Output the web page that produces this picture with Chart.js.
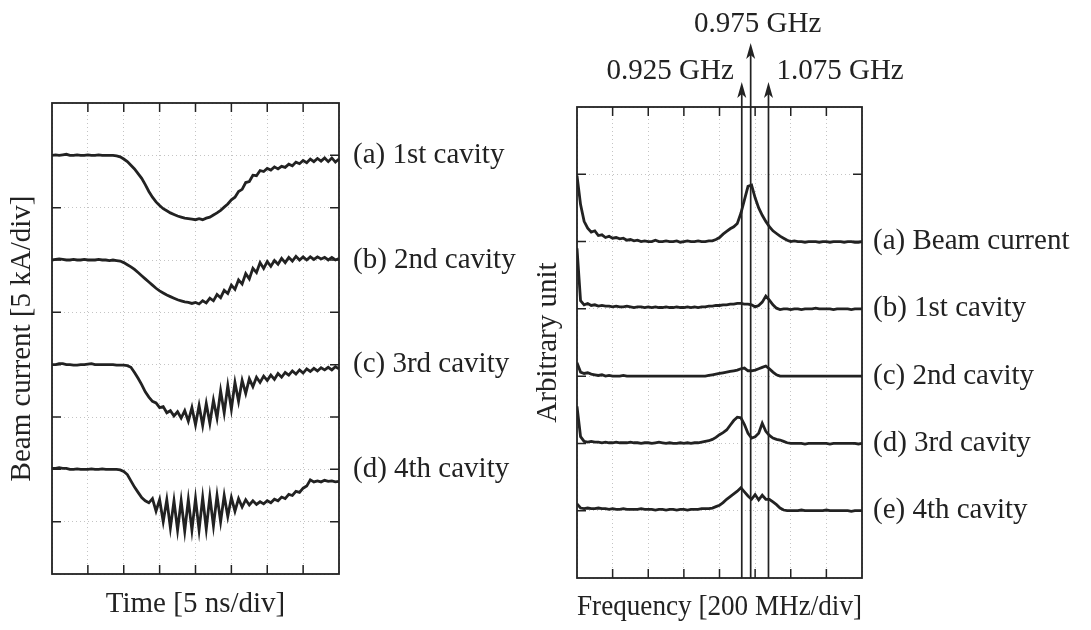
<!DOCTYPE html>
<html>
<head>
<meta charset="utf-8">
<script src="https://cdn.jsdelivr.net/npm/chart.js@4.4.1/dist/chart.umd.min.js"></script>
<style>
  html, body { margin: 0; padding: 0; background: #fff; }
  #wrap { position: relative; width: 1091px; height: 630px; overflow: hidden; }
  canvas { position: absolute; top: 0; }
  #timeChart { left: 0; }
  #freqChart { left: 520px; }
</style>
</head>
<body>
<div id="wrap">
  <canvas id="timeChart" width="520" height="630"></canvas>
  <canvas id="freqChart" width="571" height="630"></canvas>
</div>
<script>
// time axis: 0..40 ns, sampled every 0.5 ns (0.1 div)
var timeNs = Array.from({length: 81}, (_, i) => i * 0.5);

// beam current traces, in divisions (5 kA/div)
var cavity1 = [8.0, 8.01, 8.0, 8.01, 8.02, 8.0, 8.0, 8.01, 8.0, 8.0, 8.01, 8.0, 8.0, 8.01, 8.0, 8.0, 8.0, 8.0, 7.99,
    7.97, 7.93, 7.88, 7.81, 7.74, 7.65, 7.56, 7.44, 7.31, 7.2, 7.11, 7.04, 6.98, 6.94, 6.9, 6.87, 6.84, 6.82, 6.8, 6.79, 6.78, 6.77,
    6.79, 6.77, 6.8, 6.82, 6.86, 6.9, 6.95, 7.01, 7.07, 7.15, 7.2, 7.31, 7.35, 7.48, 7.5, 7.62, 7.61, 7.71, 7.69, 7.75,
    7.72, 7.78, 7.74, 7.79, 7.77, 7.83, 7.8, 7.87, 7.84, 7.9, 7.86, 7.93, 7.88, 7.94, 7.89, 7.95, 7.88, 7.95, 7.87, 7.93];
var cavity2 = [6.0, 6.01, 6.02, 6.01, 6.0, 6.0, 6.01, 6.0, 6.0, 6.01, 6.0, 6.0, 6.0, 6.01, 6.0, 6.0, 5.99, 6.0, 5.99, 5.98,
    5.95, 5.91, 5.87, 5.82, 5.76, 5.7, 5.64, 5.58, 5.52, 5.46, 5.41, 5.37, 5.33, 5.3, 5.27, 5.24, 5.22, 5.2, 5.19, 5.17, 5.19,
    5.16, 5.22, 5.18, 5.27, 5.22, 5.34, 5.28, 5.42, 5.36, 5.52, 5.44, 5.62, 5.54, 5.74, 5.64, 5.84, 5.76, 5.95, 5.84, 5.97,
    5.88, 5.99, 5.92, 6.03, 5.95, 6.05, 5.98, 6.07, 6.0, 6.06, 6.0, 6.06, 6.01, 6.06, 6.02, 6.05, 6.0, 6.05, 6.0, 6.03];
var cavity3 = [4.0, 4.0, 4.02, 4.02, 4.0, 4.0, 3.99, 3.99, 4.0, 4.0, 4.01, 4.02, 4.0, 4.0, 4.0, 4.0, 4.0, 4.0, 3.99, 3.99, 3.99, 3.98,
    3.95, 3.85, 3.74, 3.62, 3.48, 3.38, 3.3, 3.27, 3.18, 3.2, 3.08, 3.12, 3.02, 3.1, 2.98, 3.12, 2.92, 3.18, 2.85, 3.22,
    2.84, 3.26, 2.88, 3.32, 2.98, 3.5, 3.08, 3.6, 3.15, 3.66, 3.3, 3.7, 3.45, 3.73, 3.58, 3.76, 3.66, 3.78, 3.7, 3.8,
    3.72, 3.83, 3.76, 3.85, 3.8, 3.88, 3.82, 3.9, 3.84, 3.92, 3.87, 3.93, 3.88, 3.94, 3.9, 3.95, 3.9, 3.96, 3.92];
var cavity4 = [2.02, 2.02, 2.03, 2.02, 2.02, 2.0, 2.0, 2.01, 2.0, 2.0, 2.0, 2.01, 2.0, 2.0, 2.01, 2.0, 2.0, 2.0, 2.0, 1.99,
    1.96, 1.9, 1.78, 1.66, 1.56, 1.46, 1.4, 1.36, 1.44, 1.2, 1.42, 1.0, 1.42, 0.88, 1.4, 0.84, 1.4, 0.82, 1.42, 0.84,
    1.44, 0.84, 1.46, 0.86, 1.48, 0.92, 1.5, 1.0, 1.5, 1.1, 1.46, 1.2, 1.44, 1.28, 1.42, 1.32, 1.4, 1.33, 1.38, 1.34,
    1.4, 1.36, 1.43, 1.4, 1.47, 1.44, 1.52, 1.5, 1.58, 1.56, 1.64, 1.68, 1.8, 1.76, 1.78, 1.76, 1.79, 1.77, 1.78, 1.76, 1.77];
var timeLabels = ['(a) 1st cavity', '(b) 2nd cavity', '(c) 3rd cavity', '(d) 4th cavity'];

// frequency axis: 0..1.6 GHz, every 20 MHz
var freqGHz = Array.from({length: 81}, (_, i) => +(i * 0.02).toFixed(2));

var specBeam = [5.98, 5.55, 5.3, 5.2, 5.14, 5.16, 5.09, 5.1, 5.06, 5.08,
    5.05, 5.06, 5.04, 5.05, 5.02, 5.03, 5.01, 5.02, 5.0, 5.01,
    5.0, 5.0, 5.02, 5.0, 5.0, 5.01, 5.0, 5.0, 5.01, 4.99,
    5.0, 5.01, 5.0, 5.0, 5.01, 5.0, 5.0, 5.01, 5.01, 5.03,
    5.06, 5.11, 5.15, 5.19, 5.22, 5.27, 5.42, 5.62, 5.82, 5.84,
    5.65, 5.5, 5.39, 5.3, 5.22, 5.16, 5.12, 5.08, 5.05, 5.02,
    5.0, 5.01, 5.0, 5.0, 4.99, 5.0, 5.0, 5.0, 4.99, 5.0,
    5.0, 4.99, 5.0, 5.0, 5.0, 4.99, 5.0, 5.0, 4.99, 4.99, 5.0];
var specCav1 = [4.9, 4.12, 4.06, 4.08, 4.05, 4.06, 4.04, 4.05, 4.04, 4.04,
    4.03, 4.04, 4.03, 4.03, 4.04, 4.03, 4.02, 4.03, 4.03, 4.02,
    4.03, 4.02, 4.03, 4.02, 4.02, 4.03, 4.02, 4.02, 4.03, 4.02,
    4.02, 4.03, 4.02, 4.03, 4.02, 4.03, 4.03, 4.04, 4.04, 4.05,
    4.05, 4.06, 4.06, 4.07, 4.07, 4.08, 4.08, 4.07, 4.07, 4.06,
    4.03, 4.05, 4.1, 4.19, 4.13, 4.06, 4.01, 3.99, 4.0, 4.0,
    3.99, 4.0, 4.0, 3.99, 4.0, 4.0, 4.0, 4.01, 4.0, 4.0,
    4.0, 4.0, 3.99, 4.0, 4.0, 4.0, 4.0, 3.99, 4.0, 4.0, 4.0];
var specCav2 = [3.2, 3.06, 3.04, 3.05, 3.03, 3.02, 3.01, 3.02, 3.0, 3.01,
    3.0, 3.0, 3.0, 3.01, 3.0, 3.0, 3.0, 3.0, 3.0, 3.0,
    3.0, 3.0, 3.0, 3.0, 3.0, 3.0, 3.0, 3.0, 3.0, 3.0,
    3.0, 3.0, 3.0, 3.0, 3.0, 3.0, 3.0, 3.01, 3.02, 3.03,
    3.04, 3.05, 3.06, 3.07, 3.08, 3.09, 3.11, 3.12, 3.08, 3.08,
    3.09, 3.11, 3.13, 3.15, 3.11, 3.06, 3.02, 3.0, 3.0, 3.0,
    3.0, 3.0, 3.0, 3.0, 3.0, 3.0, 3.0, 3.0, 3.0, 3.0,
    3.0, 3.0, 3.0, 3.0, 3.0, 3.0, 3.0, 3.0, 3.0, 3.0, 3.0];
var specCav3 = [2.55, 2.1, 2.03, 2.02, 2.03, 2.02, 2.02, 2.01, 2.02, 2.01,
    2.01, 2.02, 2.01, 2.01, 2.01, 2.02, 2.01, 2.01, 2.0, 2.01,
    2.01, 2.0, 2.01, 2.02, 2.01, 2.0, 2.01, 2.0, 2.0, 2.01,
    2.0, 2.01, 2.0, 2.01, 2.01, 2.02, 2.03, 2.04, 2.06, 2.09,
    2.13, 2.16, 2.2, 2.27, 2.34, 2.39, 2.38, 2.28, 2.15, 2.08,
    2.1, 2.15, 2.3, 2.18, 2.12, 2.08, 2.06, 2.05, 2.03, 2.01,
    2.0, 2.0, 2.0, 2.0, 1.99, 2.0, 2.0, 2.0, 2.0, 2.0,
    2.0, 1.99, 2.0, 2.0, 2.0, 2.0, 2.0, 2.0, 2.0, 1.99, 2.0];
var specCav4 = [1.1, 1.04, 1.03, 1.04, 1.03, 1.03, 1.04, 1.03, 1.03, 1.02,
    1.03, 1.02, 1.02, 1.03, 1.02, 1.02, 1.02, 1.02, 1.03, 1.02,
    1.02, 1.02, 1.01, 1.02, 1.02, 1.01, 1.02, 1.02, 1.01, 1.02,
    1.02, 1.01, 1.02, 1.02, 1.02, 1.03, 1.03, 1.03, 1.04, 1.06,
    1.08, 1.12, 1.17, 1.21, 1.25, 1.29, 1.34, 1.28, 1.22, 1.17,
    1.24, 1.16, 1.23, 1.17, 1.17, 1.13, 1.09, 1.04, 1.01, 1.0,
    1.0, 1.0, 1.0, 1.01, 1.0, 1.0, 1.0, 1.0, 1.0, 1.0,
    1.01, 1.0, 1.0, 1.0, 1.0, 1.0, 1.0, 0.99, 1.0, 1.0, 1.0];
var freqLabels = ['(a) Beam current', '(b) 1st cavity', '(c) 2nd cavity', '(d) 3rd cavity', '(e) 4th cavity'];

// marked frequencies
var markerGHz = [0.925, 0.975, 1.075];
var markerText = ['0.925 GHz', '0.975 GHz', '1.075 GHz'];

var ink = '#222';
var serif = 'Liberation Serif, Times New Roman, serif';
var fontSize = 29;

function toPoints(xs, ys) {
    return ys.map((v, i) => ({x: xs[i], y: v}));
}
function traceSet(xs, ys) {
    return {data: toPoints(xs, ys), borderColor: ink, borderWidth: 2.8, pointRadius: 0, tension: 0, fill: false};
}

// frame, inward ticks and trace labels
var framePlugin = {
    id: 'frame',
    afterDraw(chart, args, opts) {
        var ctx = chart.ctx, a = chart.chartArea, x = chart.scales.x, y = chart.scales.y;
        var tl = 9;
        ctx.save();
        ctx.strokeStyle = ink;
        ctx.lineWidth = 1.8;
        ctx.strokeRect(a.left, a.top, a.width, a.height);
        ctx.lineWidth = 1.5;
        ctx.beginPath();
        x.ticks.forEach(t => {
            var px = x.getPixelForValue(t.value);
            if (px <= a.left + 1 || px >= a.right - 1) return;
            ctx.moveTo(px, a.top); ctx.lineTo(px, a.top + tl);
            ctx.moveTo(px, a.bottom); ctx.lineTo(px, a.bottom - tl);
        });
        y.ticks.forEach(t => {
            var py = y.getPixelForValue(t.value);
            if (py <= a.top + 1 || py >= a.bottom - 1) return;
            ctx.moveTo(a.left, py); ctx.lineTo(a.left + tl, py);
            ctx.moveTo(a.right, py); ctx.lineTo(a.right - tl, py);
        });
        ctx.stroke();

        ctx.fillStyle = ink;
        ctx.font = fontSize + 'px ' + serif;
        ctx.textAlign = 'left';
        ctx.textBaseline = 'middle';
        opts.labels.forEach((txt, i) => {
            var d = chart.data.datasets[i].data;
            var lvl = Math.round(opts.fromEnd ? d[d.length - 1].y : d[0].y);
            ctx.fillText(txt, a.right + opts.gap, y.getPixelForValue(lvl));
        });
        ctx.restore();
    }
};

// arrows marking the cavity frequencies
var markerPlugin = {
    id: 'markers',
    afterDraw(chart, args, opts) {
        if (!opts.values) return;
        var ctx = chart.ctx, a = chart.chartArea, x = chart.scales.x;
        ctx.save();
        ctx.strokeStyle = ink;
        ctx.fillStyle = ink;
        ctx.lineWidth = 1.7;
        ctx.font = fontSize + 'px ' + serif;
        ctx.textBaseline = 'alphabetic';
        opts.values.forEach((f, i) => {
            var px = x.getPixelForValue(f);
            var tip = i === 1 ? 43 : 82;
            ctx.beginPath();
            ctx.moveTo(px, a.bottom);
            ctx.lineTo(px, tip + 6);
            ctx.stroke();
            ctx.beginPath();
            ctx.moveTo(px, tip);
            ctx.lineTo(px - 4.5, tip + 16);
            ctx.lineTo(px, tip + 12);
            ctx.lineTo(px + 4.5, tip + 16);
            ctx.closePath();
            ctx.fill();
            if (i === 0) { ctx.textAlign = 'right'; ctx.fillText(opts.texts[i], px - 8, 79); }
            if (i === 1) { ctx.textAlign = 'center'; ctx.fillText(opts.texts[i], px + 7, 32); }
            if (i === 2) { ctx.textAlign = 'left'; ctx.fillText(opts.texts[i], px + 8, 79); }
        });
        ctx.restore();
    }
};

function axisTitle(text, pad) {
    return {display: true, text: text, color: ink, font: {family: serif, size: fontSize}, padding: pad};
}
var gridStyle = {color: '#c4c4c4', lineWidth: 1, drawTicks: false};
var dotted = {display: false, dash: [1, 3]};

new Chart(document.getElementById('timeChart'), {
    type: 'line',
    data: {
        datasets: [traceSet(timeNs, cavity1), traceSet(timeNs, cavity2), traceSet(timeNs, cavity3), traceSet(timeNs, cavity4)]
    },
    options: {
        responsive: false,
        animation: false,
        layout: {padding: {top: 103, right: 181, left: 0, bottom: 0}},
        scales: {
            x: {
                type: 'linear', min: 0, max: 40,
                ticks: {display: false, stepSize: 5},
                grid: gridStyle, border: dotted,
                title: axisTitle('Time [5 ns/div]', {top: 0, bottom: 8}),
                afterFit: function(s) { s.height = 56; }
            },
            y: {
                min: 0, max: 9,
                ticks: {display: false, stepSize: 1},
                grid: gridStyle, border: dotted,
                title: axisTitle('Beam current [5 kA/div]', {top: 5, bottom: 0}),
                afterFit: function(s) { s.width = 52; }
            }
        },
        plugins: {
            legend: {display: false},
            tooltip: {enabled: false},
            frame: {labels: timeLabels, gap: 14, fromEnd: false},
            markers: {}
        }
    },
    plugins: [framePlugin, markerPlugin]
});

new Chart(document.getElementById('freqChart'), {
    type: 'line',
    data: {
        datasets: [traceSet(freqGHz, specBeam), traceSet(freqGHz, specCav1), traceSet(freqGHz, specCav2),
            traceSet(freqGHz, specCav3), traceSet(freqGHz, specCav4)]
    },
    options: {
        responsive: false,
        animation: false,
        layout: {padding: {top: 107, right: 229, left: 0, bottom: 0}},
        scales: {
            x: {
                type: 'linear', min: 0, max: 1.6,
                ticks: {display: false, stepSize: 0.2},
                grid: gridStyle, border: dotted,
                title: axisTitle('Frequency [200 MHz/div]', {top: 0, bottom: 5}),
                afterFit: function(s) { s.height = 52; }
            },
            y: {
                min: 0, max: 7,
                ticks: {display: false, stepSize: 1},
                grid: gridStyle, border: dotted,
                title: axisTitle('Arbitrary unit', {top: 11, bottom: 0}),
                afterFit: function(s) { s.width = 57; }
            }
        },
        plugins: {
            legend: {display: false},
            tooltip: {enabled: false},
            frame: {labels: freqLabels, gap: 11, fromEnd: true},
            markers: {values: markerGHz, texts: markerText}
        }
    },
    plugins: [framePlugin, markerPlugin]
});
</script>
</body>
</html>
